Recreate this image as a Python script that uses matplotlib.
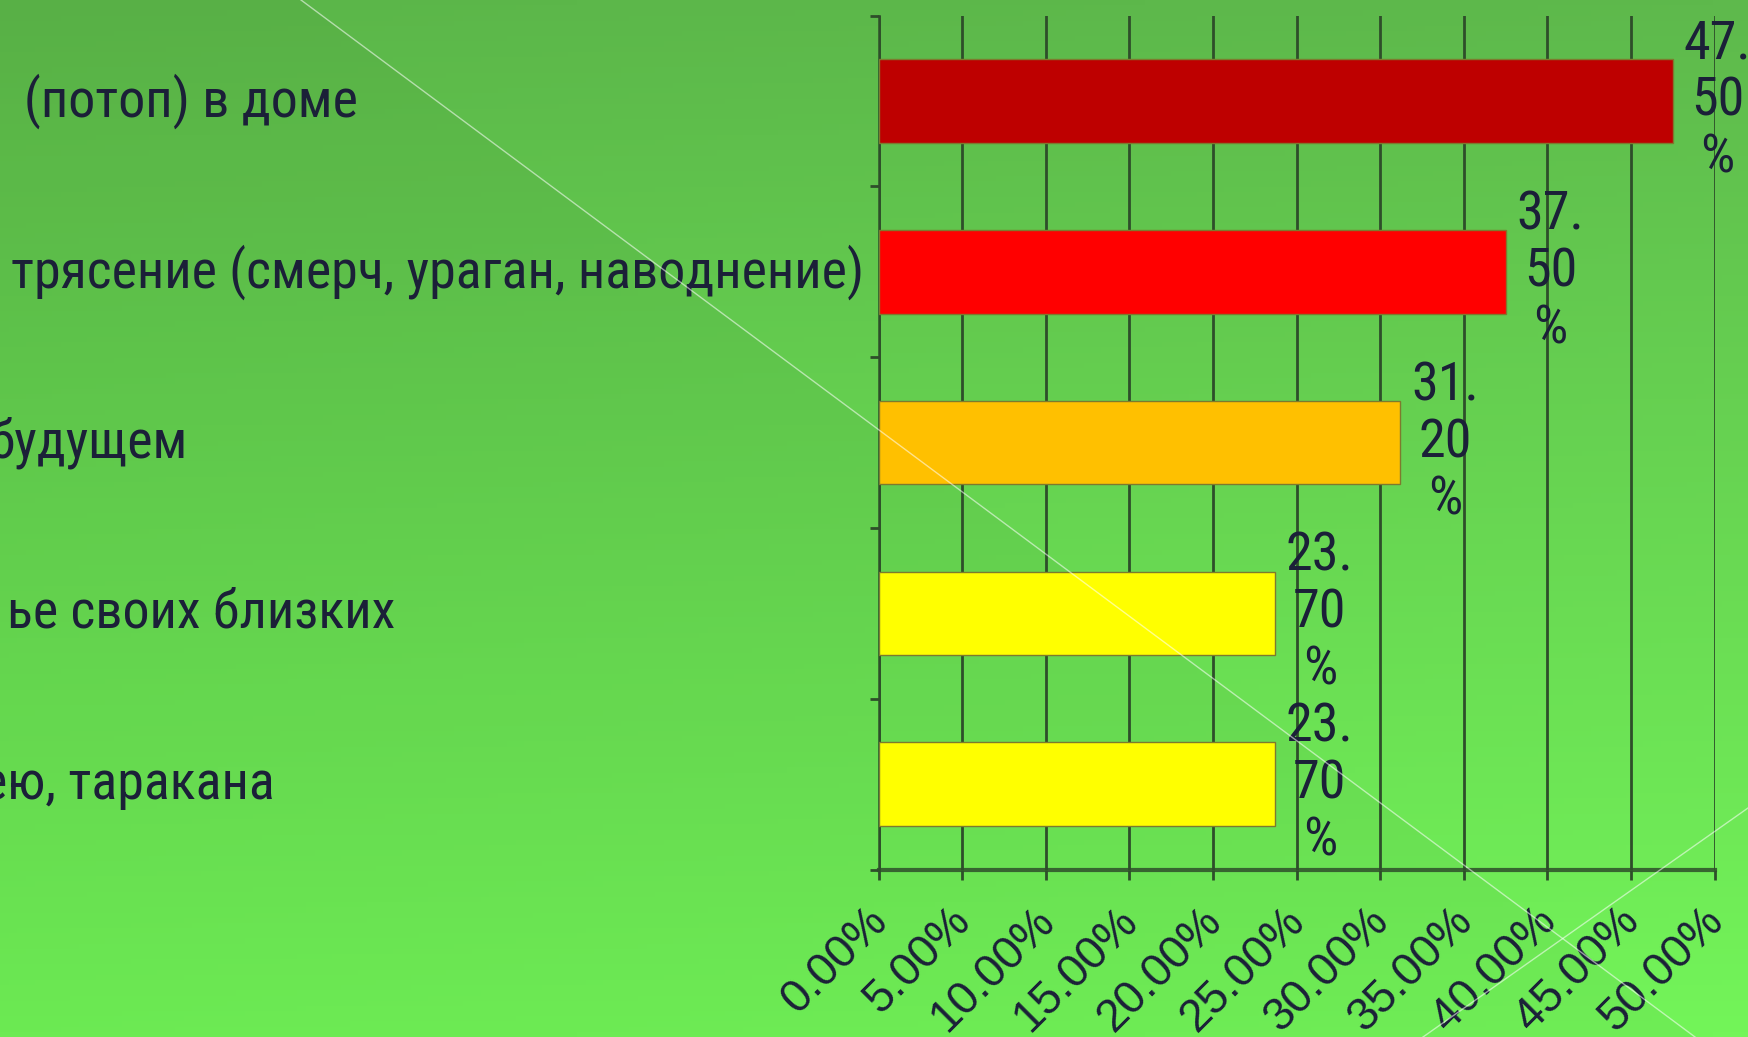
import numpy as np
import matplotlib
matplotlib.use("Agg")
import matplotlib.pyplot as plt
from matplotlib import font_manager
from matplotlib.font_manager import FontProperties
from matplotlib.transforms import blended_transform_factory, ScaledTranslation
from matplotlib.lines import Line2D
from matplotlib.patches import Polygon

# ---- data ----
categories = [
    "(потоп) в доме",
    "трясение (смерч, ураган, наводнение)",
    "будущем",
    "ье своих близких",
    "ею, таракана",
]
values = [47.5, 37.5, 31.2, 23.7, 23.7]
bar_colors = ["#BE0000", "#FF0000", "#FFC000", "#FFFF00", "#FFFF00"]
xticks = [0, 5, 10, 15, 20, 25, 30, 35, 40, 45, 50]
xtick_labels = [f"{t:.2f}%" for t in xticks]

# ---- fonts ----
names = {f.name for f in font_manager.fontManager.ttflist}
regular = "Liberation Sans" if "Liberation Sans" in names else "DejaVu Sans"


def find_condensed():
    prefs = ["Liberation Sans Narrow", "Arial Narrow", "Roboto Condensed",
             "Open Sans Condensed", "Noto Sans", "Noto Sans Condensed",
             "DejaVu Sans Condensed", "DejaVu Sans"]
    found = []
    for f in font_manager.fontManager.ttflist:
        n = f.name
        st = str(f.stretch).lower()
        is_cond = ("narrow" in n.lower() or "condensed" in n.lower()
                   or "condensed" in st or st in ("75", "62", "50", "87"))
        if "condensed" in f.fname.lower() or "narrow" in f.fname.lower():
            is_cond = True
        if not is_cond:
            continue
        if str(f.style) != "normal":
            continue
        w = f.weight
        try:
            w = int(w)
        except Exception:
            w = 400 if str(w) in ("normal", "regular", "book") else 700
        if w > 500 or w < 300:
            continue
        fl = f.fname.lower()
        if "bold" in fl or "italic" in fl or "light" in fl or "oblique" in fl:
            continue
        try:
            cmap = font_manager.get_font(f.fname).get_charmap()
            if ord("ж") not in cmap:
                continue
        except Exception:
            continue
        rank = len(prefs)
        for i, p in enumerate(prefs):
            if n == p:
                rank = i
                break
        found.append((rank, f.fname))
    if not found:
        return None
    found.sort()
    return found[0][1]


cond_file = find_condensed()
if cond_file:
    label_fp = FontProperties(fname=cond_file)
else:
    label_fp = FontProperties(family=regular)

text_color = "#1b2038"

W, H = 1748, 1037
fig = plt.figure(figsize=(W / 100, H / 100), dpi=100)

# ---- background gradient ----
bg = fig.add_axes([0, 0, 1, 1], zorder=-10)
ny, nx = 200, 200
ty = np.linspace(0, 1, ny)[:, None]
tx = np.linspace(0, 1, nx)[None, :]
top = np.array([91, 182, 73]) / 255
bot = np.array([112, 242, 86]) / 255
img = top[None, None, :] + (bot - top)[None, None, :] * ty[..., None] + 0.012 * tx[..., None]
img = np.clip(img, 0, 1)
bg.imshow(img, extent=[0, 1, 0, 1], aspect="auto", origin="upper")
bg.add_patch(Polygon([(0, 1), (301 / W, 1), (1695 / W, 0), (0, 0)], closed=True,
                     facecolor="black", alpha=0.03, lw=0))
bg.set_xlim(0, 1); bg.set_ylim(0, 1)
bg.axis("off")

# ---- chart axes ----
left, right = 878.5 / W, 1714.6 / W
bottom, topy = 1 - 869.6 / H, 1 - 15.6 / H
ax = fig.add_axes([left, bottom, right - left, topy - bottom])
ax.patch.set_alpha(0)

y = np.arange(len(categories))
ax.barh(y, values, height=0.49, color=bar_colors, edgecolor="#7d7a2e", linewidth=1.0, zorder=3)

ax.set_xlim(0, 50)
ax.set_ylim(len(categories) - 0.5, -0.5)

grid_c = "#2e4e2a"
ax.set_xticks(xticks)
ax.set_xticklabels(xtick_labels, rotation=45, ha="right", va="center",
                   rotation_mode="anchor", fontsize=33, family=regular, color=text_color)
ax.tick_params(axis="x", length=10 * 0.72, width=2, color=grid_c, pad=25, direction="out")
for lbl in ax.get_xticklabels():
    lbl.set_transform(lbl.get_transform() + ScaledTranslation(2 / 100, 0, fig.dpi_scale_trans))
ax.xaxis.grid(True, color=grid_c, linewidth=2, zorder=1)
ax.set_axisbelow(True)

ax.set_yticks([])
ax.set_yticks(np.arange(-0.5, len(categories)), minor=True)
ax.tick_params(axis="y", which="minor", length=9 * 0.72, width=2, color=grid_c, direction="out")

for s in ["top", "right"]:
    ax.spines[s].set_visible(False)
ax.spines["left"].set_color(grid_c)
ax.spines["left"].set_linewidth(2)
ax.spines["bottom"].set_color(grid_c)
ax.spines["bottom"].set_linewidth(3)
ax.spines["left"].set_alpha(0.85)
ax.spines["bottom"].set_alpha(0.85)

renderer = fig.canvas.get_renderer()

# ---- category labels (clipped at the left edge of the slide) ----
label_x_px = [24.5, 11, -12, 7, -18]
trans = blended_transform_factory(fig.transFigure, ax.transData)
probe = fig.text(0, 0, categories[1], fontproperties=label_fp, fontsize=40)
wpx = probe.get_window_extent(renderer).width
probe.remove()
label_size = min(44.0, 40.0 * 853.0 / wpx)
for yi, lab, xp in zip(y, categories, label_x_px):
    ax.text(xp / W, yi, lab, transform=trans, ha="left", va="center",
            fontproperties=label_fp, fontsize=label_size, color=text_color, clip_on=False)

# ---- data labels (wrapped like the original) ----
data_size = 39 if cond_file else 38
for yi, v in zip(y, values):
    s = f"{v:.2f}%"
    wrapped = s[:3] + "\n" + s[3:5] + "\n" + s[5:]
    ax.annotate(wrapped, xy=(v, yi), xytext=(8, 0), textcoords="offset points",
                ha="left", va="center", multialignment="center",
                fontproperties=label_fp, fontsize=data_size, color=text_color,
                linespacing=1.15, annotation_clip=False, zorder=5)

# ---- decorative thin diagonal lines of the slide template ----
fig.add_artist(Line2D([301 / W, 1695 / W], [1, 0], transform=fig.transFigure,
                      color="white", alpha=0.55, lw=1.0, zorder=10))
fig.add_artist(Line2D([1, 1423 / W], [1 - 808 / H, 0], transform=fig.transFigure,
                      color="white", alpha=0.55, lw=1.0, zorder=10))

fig.savefig("out.png", dpi=100)
